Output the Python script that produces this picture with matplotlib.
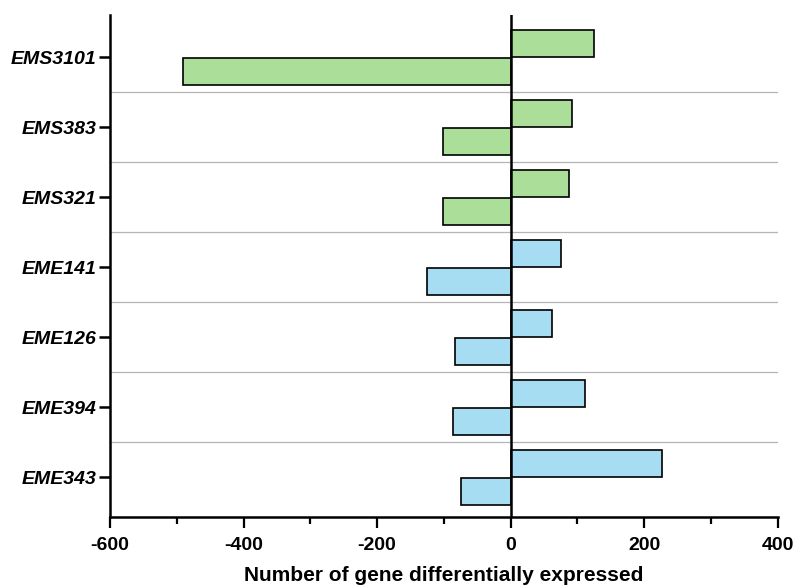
import matplotlib
matplotlib.use("Agg")
import matplotlib.pyplot as plt
import numpy as np
from matplotlib.ticker import MultipleLocator

# Lines ordered top to bottom
lines = ["EMS3101", "EMS383", "EMS321", "EME141", "EME126", "EME394", "EME343"]
up_regulated = [125, 92, 87, 75, 62, 112, 227]
down_regulated = [-491, -101, -101, -125, -84, -87, -74]
line_group = ["EMS", "EMS", "EMS", "EME", "EME", "EME", "EME"]
group_colors = {"EMS": "#abdf99", "EME": "#a6ddf2"}

plt.rcParams["font.family"] = ["Liberation Sans", "DejaVu Sans"]
plt.rcParams["axes.unicode_minus"] = False

fig = plt.figure(figsize=(7.93, 5.85), dpi=100)
ax = fig.add_axes([0.1387, 0.116, 0.842, 0.858])

y = np.arange(len(lines))
bar_h = 0.39
colors = [group_colors[g] for g in line_group]

ax.barh(y - 0.2, up_regulated, height=bar_h, color=colors,
        edgecolor="black", linewidth=1.2, zorder=3)
ax.barh(y + 0.2, down_regulated, height=bar_h, color=colors,
        edgecolor="black", linewidth=1.2, zorder=3)

# separators between lines
for sep in np.arange(0.5, len(lines) - 0.5, 1.0):
    ax.axhline(sep, color="#b5b5b5", linewidth=0.9, zorder=1)

ax.axvline(0, color="black", linewidth=1.8, zorder=4)

ax.set_xlim(-600, 400)
ax.set_ylim(len(lines) - 1 + 0.57, -0.6)

ax.set_yticks(y)
ax.set_yticklabels(lines, fontsize=14, fontweight="bold", fontstyle="italic")
ax.xaxis.set_major_locator(MultipleLocator(200))
ax.xaxis.set_minor_locator(MultipleLocator(100))
ax.tick_params(axis="x", which="major", length=8, width=1.6, labelsize=14, pad=6)
ax.tick_params(axis="x", which="minor", length=5, width=1.6)
ax.tick_params(axis="y", length=8, width=1.8, pad=2)
for lbl in ax.get_xticklabels():
    lbl.set_fontweight("bold")

for side in ["top", "right"]:
    ax.spines[side].set_visible(False)
for side in ["left", "bottom"]:
    ax.spines[side].set_linewidth(1.8)

ax.set_xlabel("Number of gene differentially expressed", fontsize=15,
              fontweight="bold", labelpad=9)

fig.savefig("out.png", dpi=100)
